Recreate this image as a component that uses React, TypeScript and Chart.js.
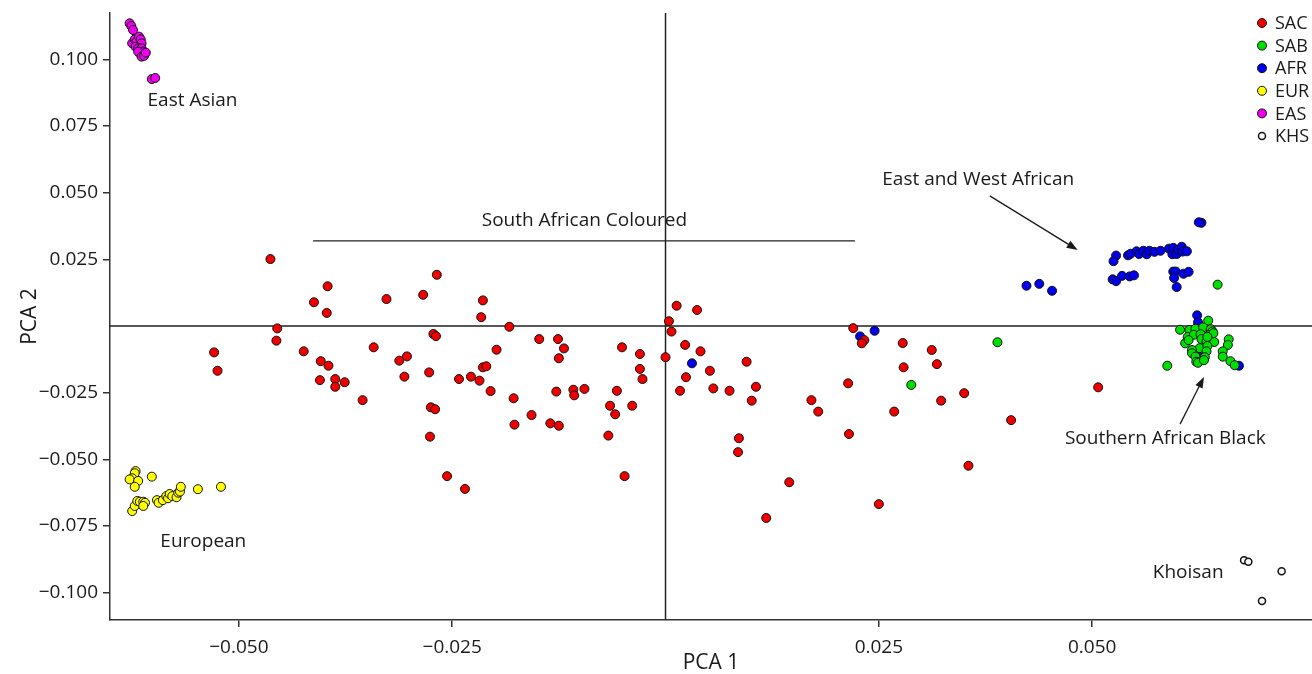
import React, { useEffect, useRef } from "react";
import { Chart, registerables } from "chart.js";

Chart.register(...registerables);

const FONT = '"Open Sans", "Noto Sans", sans-serif';

const SAC: [number, number][] = [
  [-0.0463, 0.0251], [-0.0268, 0.0192], [-0.0396, 0.0149], [-0.0412, 0.0089], [-0.0327, 0.0101],
  [-0.0284, 0.0117], [-0.0214, 0.0096], [-0.0397, 0.0049], [-0.0216, 0.0033], [-0.0455, -0.0009],
  [-0.0183, -0.0003], [-0.0456, -0.0055], [-0.0272, -0.003], [-0.0269, -0.0038], [-0.0529, -0.0099],
  [-0.0525, -0.0168], [-0.0424, -0.0095], [-0.0342, -0.008], [-0.0404, -0.0132], [-0.0395, -0.0149],
  [-0.0312, -0.013], [-0.0303, -0.0114], [-0.0198, -0.0089], [-0.0405, -0.0203], [-0.0387, -0.0199],
  [-0.0387, -0.0228], [-0.0376, -0.0211], [-0.0306, -0.019], [-0.0277, -0.0174], [-0.0242, -0.0199],
  [-0.0228, -0.019], [-0.0218, -0.0205], [-0.0214, -0.0155], [-0.021, -0.0151], [-0.0205, -0.0244],
  [-0.0178, -0.0271], [-0.0355, -0.0278], [-0.0275, -0.0305], [-0.027, -0.0312], [-0.0177, -0.037],
  [-0.0276, -0.0415], [-0.0256, -0.0563], [-0.0235, -0.0611],
  [-0.0148, -0.0049], [-0.0126, -0.0049], [-0.0119, -0.0084], [-0.0125, -0.0121], [-0.0157, -0.0334],
  [-0.0135, -0.0365], [-0.0125, -0.0374], [-0.0128, -0.0246], [-0.0108, -0.0239], [-0.0107, -0.026],
  [-0.0095, -0.0236], [-0.0051, -0.008], [-0.003, -0.0105], [-0.003, -0.0161], [-0.0027, -0.0199],
  [-0.0057, -0.0243], [-0.0065, -0.0299], [-0.0059, -0.0331], [-0.0039, -0.0299], [-0.0067, -0.0411],
  [-0.0048, -0.0563],
  [0.0, -0.0117], [0.0004, 0.0018], [0.0013, 0.0076], [0.0037, 0.006], [0.0007, -0.0021],
  [0.0023, -0.0071], [0.0041, -0.0095], [0.0052, -0.0168], [0.0024, -0.0192], [0.0017, -0.0243],
  [0.0056, -0.0234], [0.0075, -0.0243], [0.0095, -0.0134], [0.0106, -0.0228], [0.0101, -0.028],
  [0.0086, -0.0421], [0.0085, -0.0473], [0.0145, -0.0586], [0.0118, -0.072], [0.0171, -0.0278],
  [0.0179, -0.0321],
  [0.022, -0.0008], [0.0233, -0.0053], [0.023, -0.0065], [0.0278, -0.0064], [0.0312, -0.009],
  [0.0279, -0.0155], [0.0318, -0.0143], [0.0214, -0.0215], [0.0268, -0.0321], [0.0323, -0.028],
  [0.035, -0.0252], [0.0507, -0.023], [0.0405, -0.0353], [0.0215, -0.0405], [0.0355, -0.0524],
  [0.025, -0.0668],
];

const SAB: [number, number][] = [
  [0.0389, -0.0061], [0.0288, -0.0221], [0.0647, 0.0155], [0.0636, 0.002], [0.0603, -0.0014],
  [0.0614, -0.0015], [0.0621, -0.001], [0.063, -0.0005], [0.0639, -0.0012], [0.0641, -0.002],
  [0.0612, -0.0041], [0.0619, -0.0033], [0.0627, -0.0031], [0.0637, -0.0034], [0.0642, -0.0027],
  [0.0609, -0.0065], [0.0613, -0.0053], [0.0628, -0.0049], [0.0634, -0.0059], [0.0643, -0.006],
  [0.0635, -0.0041], [0.0626, -0.0083], [0.0635, -0.0075], [0.0617, -0.009], [0.0634, -0.0095],
  [0.066, -0.005], [0.0659, -0.0071], [0.0653, -0.0095], [0.0653, -0.0115], [0.0617, -0.0102],
  [0.0621, -0.0115], [0.0632, -0.0117], [0.0622, -0.0134], [0.0624, -0.0138], [0.0631, -0.0128],
  [0.0662, -0.0132], [0.0667, -0.0147], [0.0588, -0.0149],
];

const AFR: [number, number][] = [
  [0.0031, -0.014], [0.0228, -0.0039], [0.0245, -0.0018], [0.0423, 0.0151], [0.0438, 0.0158],
  [0.0453, 0.0132], [0.0628, 0.0387], [0.0625, 0.0389], [0.0528, 0.0264], [0.0525, 0.0243],
  [0.0542, 0.0265], [0.0545, 0.0271], [0.0552, 0.028], [0.0555, 0.027], [0.056, 0.0282],
  [0.0564, 0.0269], [0.0567, 0.0282], [0.0573, 0.0278], [0.058, 0.0282], [0.059, 0.029],
  [0.0594, 0.0269], [0.0595, 0.0293], [0.0599, 0.027], [0.0601, 0.0286], [0.0605, 0.0297],
  [0.0606, 0.0279], [0.0611, 0.028], [0.0524, 0.0175], [0.0528, 0.0168], [0.0535, 0.0188],
  [0.0544, 0.0186], [0.0549, 0.019], [0.0595, 0.0204], [0.0598, 0.0204], [0.0596, 0.018],
  [0.0607, 0.0196], [0.0613, 0.0203], [0.0599, 0.0146], [0.0623, 0.004], [0.0624, 0.0014],
  [0.0625, -0.0015], [0.0623, -0.0111], [0.0626, -0.0115], [0.0672, -0.0149],
];

const EUR: [number, number][] = [
  [-0.0621, -0.0544], [-0.0622, -0.0552], [-0.0625, -0.0571], [-0.0628, -0.0575], [-0.0618, -0.0581],
  [-0.0622, -0.0603], [-0.0602, -0.0565], [-0.0625, -0.0694], [-0.0622, -0.0675], [-0.0619, -0.0656],
  [-0.0616, -0.0659], [-0.0612, -0.0659], [-0.061, -0.0663], [-0.0612, -0.0675], [-0.0596, -0.0653],
  [-0.0594, -0.0663], [-0.0589, -0.0653], [-0.0585, -0.0638], [-0.0583, -0.0646], [-0.0581, -0.063],
  [-0.0578, -0.0638], [-0.0573, -0.0642], [-0.0571, -0.0625], [-0.0569, -0.0621], [-0.0568, -0.0603],
  [-0.0548, -0.0612], [-0.0521, -0.0603],
];

const EAS: [number, number][] = [
  [-0.0628, 0.1135], [-0.0626, 0.1125], [-0.0624, 0.111], [-0.0625, 0.106], [-0.0622, 0.1075],
  [-0.062, 0.1066], [-0.0617, 0.1085], [-0.0615, 0.1075], [-0.0614, 0.106], [-0.0621, 0.1047],
  [-0.0618, 0.1041], [-0.0616, 0.1035], [-0.0614, 0.1041], [-0.0612, 0.1029], [-0.061, 0.1023],
  [-0.0613, 0.1016], [-0.0616, 0.1023], [-0.0618, 0.1029], [-0.0614, 0.101], [-0.0611, 0.1013],
  [-0.0609, 0.1025], [-0.0602, 0.0926], [-0.0598, 0.093],
];

const KHS: [number, number][] = [
  [0.0678, -0.0878], [0.0683, -0.0884], [0.0722, -0.092], [0.0699, -0.1031],
];

const GROUP_NAMES = ["SAC", "SAB", "AFR", "EUR", "EAS", "KHS"];
const GROUP_DATA = [SAC, SAB, AFR, EUR, EAS, KHS];
const GROUP_COLORS = ["#ee0000", "#00e000", "#0000ee", "#ffff00", "#ee00ee", "#ffffff"];
const GROUP_RADII = [4.5, 4.5, 4.5, 4.5, 4.5, 3.5];

const X_TICKS = [-0.05, -0.025, 0.025, 0.05];
const Y_TICKS = [-0.1, -0.075, -0.05, -0.025, 0.025, 0.05, 0.075, 0.1];
const X_MIN = -0.0651;
const X_MAX = 0.07576;
const Y_MIN = -0.11025;
const Y_MAX = 0.11737;

const LABEL_TEXTS = [
  "East Asian",
  "European",
  "South African Coloured",
  "East and West African",
  "Southern African Black",
  "Khoisan",
];
const LABEL_POS: [number, number, string][] = [
  [-0.0607, 0.0844, "left"],
  [-0.0592, -0.081, "left"],
  [-0.0095, 0.0394, "center"],
  [0.0254, 0.0548, "left"],
  [0.0468, -0.0424, "left"],
  [0.0571, -0.0926, "left"],
];

const fmt = (v: number) => (v < 0 ? "\u2212" : "") + Math.abs(v).toFixed(3);

const overlay = {
  id: "overlay",
  beforeDatasetsDraw(chart: any) {
    const { ctx, chartArea: a, scales } = chart;
    const xs = scales.x;
    const ys = scales.y;
    const px = (v: number) => xs.getPixelForValue(v);
    const py = (v: number) => ys.getPixelForValue(v);
    ctx.save();
    ctx.strokeStyle = "#222";
    ctx.lineWidth = 1.5;
    ctx.beginPath();
    ctx.moveTo(px(0), a.top);
    ctx.lineTo(px(0), a.bottom);
    ctx.moveTo(a.left, py(0));
    ctx.lineTo(a.right, py(0));
    ctx.stroke();
    ctx.lineWidth = 1.3;
    ctx.beginPath();
    ctx.moveTo(px(-0.0413), py(0.0319));
    ctx.lineTo(px(0.0222), py(0.0319));
    ctx.stroke();
    ctx.restore();
  },
  afterDatasetsDraw(chart: any) {
    const { ctx, chartArea: a, scales } = chart;
    const xs = scales.x;
    const ys = scales.y;
    const px = (v: number) => xs.getPixelForValue(v);
    const py = (v: number) => ys.getPixelForValue(v);
    ctx.save();
    ctx.fillStyle = "#1a1a1a";
    ctx.font = `19px ${FONT}`;
    ctx.textBaseline = "middle";
    LABEL_TEXTS.forEach((t, i) => {
      const [lx, ly, al] = LABEL_POS[i];
      ctx.textAlign = al;
      ctx.fillText(t, px(lx), py(ly));
    });
    const arrow = (x1: number, y1: number, x2: number, y2: number) => {
      const X1 = px(x1), Y1 = py(y1), X2 = px(x2), Y2 = py(y2);
      const ang = Math.atan2(Y2 - Y1, X2 - X1);
      const L = 11, W = 4;
      ctx.strokeStyle = "#1a1a1a";
      ctx.lineWidth = 1.3;
      ctx.beginPath();
      ctx.moveTo(X1, Y1);
      ctx.lineTo(X2 - L * 0.8 * Math.cos(ang), Y2 - L * 0.8 * Math.sin(ang));
      ctx.stroke();
      ctx.beginPath();
      ctx.moveTo(X2, Y2);
      ctx.lineTo(X2 - L * Math.cos(ang) + W * Math.sin(ang), Y2 - L * Math.sin(ang) - W * Math.cos(ang));
      ctx.lineTo(X2 - L * Math.cos(ang) - W * Math.sin(ang), Y2 - L * Math.sin(ang) + W * Math.cos(ang));
      ctx.closePath();
      ctx.fill();
    };
    arrow(0.038, 0.0488, 0.0483, 0.0285);
    arrow(0.0603, -0.0368, 0.0631, -0.0191);
    const lx = a.right - 50;
    ctx.font = `18px ${FONT}`;
    GROUP_NAMES.forEach((n, i) => {
      const cy = a.top + 10 + i * 22.6;
      ctx.beginPath();
      ctx.arc(lx, cy, GROUP_RADII[i], 0, Math.PI * 2);
      ctx.fillStyle = GROUP_COLORS[i];
      ctx.fill();
      ctx.lineWidth = i === 5 ? 1.5 : 1;
      ctx.strokeStyle = "#111";
      ctx.stroke();
      ctx.fillStyle = "#1a1a1a";
      ctx.textAlign = "left";
      ctx.fillText(n, lx + 13, cy + 1);
    });
    ctx.restore();
  },
};

export default function App() {
  const ref = useRef<HTMLCanvasElement | null>(null);
  useEffect(() => {
    if (!ref.current) return;
    const tickFont = { family: FONT, size: 19 };
    const chart = new Chart(ref.current, {
      type: "scatter",
      data: {
        datasets: GROUP_NAMES.map((n, i) => ({
          label: n,
          data: GROUP_DATA[i].map(([x, y]) => ({ x, y })),
          backgroundColor: GROUP_COLORS[i],
          borderColor: "#111",
          borderWidth: i === 5 ? 1.5 : 1,
          pointRadius: GROUP_RADII[i],
          pointHoverRadius: GROUP_RADII[i],
        })),
      },
      options: {
        animation: false,
        responsive: false,
        devicePixelRatio: 1,
        layout: { autoPadding: false, padding: { top: 13, left: 0, right: 0, bottom: 0 } },
        plugins: { legend: { display: false }, tooltip: { enabled: false } },
        scales: {
          x: {
            type: "linear",
            min: X_MIN,
            max: X_MAX,
            afterBuildTicks: (s: any) => {
              s.ticks = X_TICKS.map((v) => ({ value: v }));
            },
            afterFit: (s: any) => {
              s.height = 54;
              s.paddingLeft = 0;
              s.paddingRight = 0;
            },
            grid: { drawOnChartArea: false, drawTicks: true, tickLength: 7, color: "#333", lineWidth: 1.5 },
            border: { color: "#333", width: 1.5 },
            ticks: { callback: (v: any) => fmt(Number(v)), font: tickFont, color: "#1a1a1a", padding: 9, maxRotation: 0, autoSkip: false },
            title: { display: true, text: "PCA 1", font: { family: FONT, size: 21, lineHeight: 1 }, color: "#1a1a1a", padding: 0 },
          },
          y: {
            type: "linear",
            min: Y_MIN,
            max: Y_MAX,
            afterBuildTicks: (s: any) => {
              s.ticks = Y_TICKS.map((v) => ({ value: v }));
            },
            afterFit: (s: any) => {
              s.width = 110;
              s.paddingTop = 0;
              s.paddingBottom = 0;
            },
            grid: { drawOnChartArea: false, drawTicks: true, tickLength: 7, color: "#333", lineWidth: 1.5 },
            border: { color: "#333", width: 1.5 },
            ticks: { callback: (v: any) => fmt(Number(v)), font: tickFont, color: "#1a1a1a", padding: 5, autoSkip: false },
            title: { display: true, text: "PCA 2", font: { family: FONT, size: 21, lineHeight: 1.2 }, color: "#1a1a1a", padding: { top: 17, bottom: 0 } },
          },
        },
      },
      plugins: [overlay],
    } as any);
    return () => chart.destroy();
  }, []);
  return (
    <div style={{ position: "fixed", left: 0, top: 0, width: 1312, height: 674, background: "#fff" }}>
      <canvas ref={ref} width={1312} height={674} style={{ display: "block" }} />
    </div>
  );
}
